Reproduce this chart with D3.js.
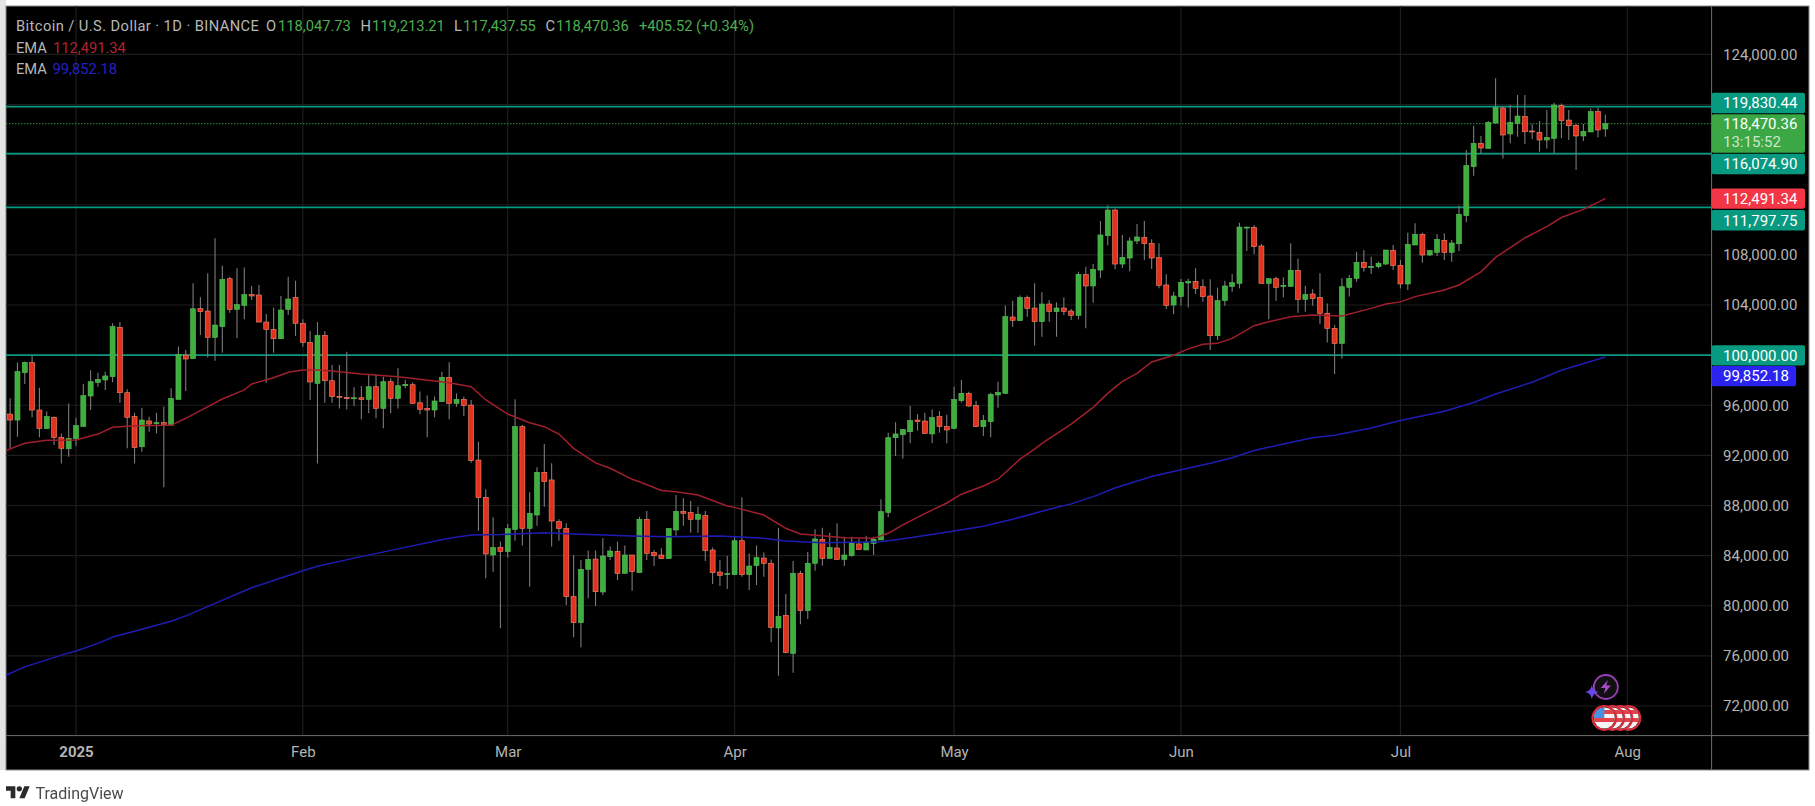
<!DOCTYPE html>
<html>
<head>
<meta charset="utf-8">
<script src="https://cdn.jsdelivr.net/npm/d3@7"></script>
<style>
   html, body { margin: 0; background: #fff; }
   svg { display: block; filter: blur(0.45px); }
   text { font-family: Roboto, sans-serif; }
</style>
</head>
<body>
<div class="chart"></div>
<script>
// candles, one per day, first one is 2024-12-23
const firstDay = new Date(Date.UTC(2024, 11, 23));
const opens = [
   95300,94820,98600,99400,95620,94130,95040,93440,92530,93330,
   94300,96740,97830,98020,98280,102220,97000,95090,92690,94750,
   94560,94610,94400,96470,100010,99720,103710,103520,101420,102270,
   106100,103650,103970,104830,104800,102640,102060,101310,103650,104590,
   102540,101020,97750,101580,97960,96710,96630,96530,96600,96470,
   97480,95750,97880,96550,97560,97640,96200,95730,95620,96290,
   98230,96150,96470,96020,91630,88650,84050,84660,84320,86100,
   94290,86180,87240,90650,90040,86710,86180,80730,78650,82910,
   83730,81100,83920,84340,82590,84050,82640,86900,84240,84050,
   83760,86050,87530,87430,86900,87190,84450,82690,82480,82480,
   85190,82480,83200,83810,83390,78230,79240,76200,82590,79610,
   83390,85300,83780,84610,83700,84000,84930,84450,84980,85250,
   87450,93410,93650,93890,94820,94740,93710,95090,94290,94160,
   96370,96950,95970,94290,94690,96820,96950,103040,102750,104590,
   103760,102670,104080,103470,103760,103520,103180,106420,105520,106790,
   109530,111580,107270,107750,109110,109400,108920,107780,105600,104000,
   104670,105760,105890,105460,104720,101550,104350,105490,105730,110170,
   110200,108710,105730,106100,105490,105490,106770,104450,104880,104610,
   103340,102140,100940,105410,106130,107410,106980,107060,107270,108360,
   107170,105680,108790,109640,107990,108200,109160,108200,108890,111130,
   115040,116900,116500,118520,119720,117650,118500,119060,117890,117780,
   117170,117300,119930,118760,118340,117490,117810,119430,118047.73
];
const highs = [
   96550,99400,99500,99930,97400,95500,95100,93750,96150,95000,
   97700,98800,98600,98680,102540,102640,97270,95400,95800,95090,
   95400,95900,97350,100680,100410,105730,104610,106530,109320,107140,
   106260,106930,107000,105520,105600,103280,103790,104720,106260,105940,
   102860,101930,102640,101930,99210,99210,100280,97430,97540,98410,
   98470,98280,98150,98950,98020,97800,97090,96770,96690,98680,
   99430,96950,96690,96420,93090,89290,87060,85120,86520,96470,
   94420,89050,91050,92910,91370,86900,86580,84050,83650,84400,
   84400,85380,84720,85120,84800,84050,87110,87560,84450,84580,
   86200,88840,88570,88360,87910,87560,84640,83650,83970,85510,
   88650,84180,84800,84240,83700,86230,80940,83570,82800,84290,
   86100,86230,85830,86580,85510,85510,85300,85590,85510,88490,
   93810,94640,94100,95940,95300,95410,95670,95540,95250,97480,
   98020,97080,96370,95220,97000,97880,103970,104350,104750,104750,
   105730,105010,104400,104210,104610,103680,106660,107060,107270,110700,
   111950,111710,109590,109400,110460,110700,109240,108920,106450,105060,
   106080,106100,106930,106050,106050,105380,105940,106470,110570,110250,
   110380,108870,106130,106260,106210,108920,107720,105540,105250,106530,
   104130,102400,106130,106400,108260,108390,107860,107460,108390,108790,
   107590,109770,110520,109770,108390,109670,109720,109190,111930,116370,
   118310,117490,118680,122090,119830,119960,120760,120760,118420,118680,
   119560,120150,120090,119560,118440,118440,119690,119750,119213.21
];
const lows = [
   92560,93490,97700,95040,93440,94100,92830,91360,91900,92750,
   94300,95620,97480,97220,97830,96200,92560,91360,92300,93890,
   93760,89450,94400,96470,97140,99720,101600,99820,99560,100200,
   103390,101340,102860,104400,102640,97800,100200,101310,103200,101520,
   100680,96420,91360,96200,96200,95750,95670,95940,94880,95360,
   94960,94160,95360,95750,97350,96150,95280,93440,95040,96290,
   94880,95880,95150,91420,85990,82190,82720,78200,83860,85190,
   84800,81520,86390,87910,84720,85190,80060,77480,76680,80590,
   79980,80860,83650,82060,82590,81200,82640,83650,83170,83730,
   83760,85590,86390,85830,85830,83570,81740,81580,81340,82480,
   82320,81260,81660,82320,77080,74420,76200,74660,78520,78940,
   82800,83200,83780,83700,83170,83920,84450,84450,84050,85250,
   87060,91950,91760,92960,93970,93710,92960,93810,92960,94080,
   96210,95890,94290,93550,93440,95810,96900,102270,102750,103070,
   100760,101470,102670,101470,103200,102800,102860,102140,104190,106160,
   108740,106850,106950,106690,108870,107590,106870,105330,103680,103260,
   103950,103810,104880,104270,100410,101210,103950,105060,105330,108310,
   108070,105730,102860,104350,104610,105460,103390,103470,103950,102460,
   101000,98490,99740,104670,105860,106660,106470,106930,107190,106790,
   105330,105200,108790,107380,107910,107910,107590,107460,108310,110600,
   114320,116050,116500,118500,115700,116900,117430,116850,117220,116240,
   116500,116100,117300,117170,114770,117090,117810,117380,117437.55
];
const closes = [
   94820,98680,99420,95620,94160,95090,93440,92560,93360,94370,
   96770,97880,98070,98340,102270,97000,95040,92640,94820,94500,
   94610,94480,96530,100060,99690,103700,103470,101420,102400,106050,
   103650,104030,104830,104720,102640,102060,101310,103600,104480,102540,
   101020,97860,101580,97960,96690,96630,96530,96600,96470,97480,
   95750,97880,96550,97560,97670,96150,95680,95620,96340,98230,
   96150,96470,95990,91580,88630,84130,84640,84340,86150,94290,
   86180,87380,90650,89900,86760,86180,80730,78650,82910,83700,
   81120,83970,84370,82590,84050,82720,86900,84180,84000,83760,
   86150,87530,87380,86900,87300,84400,82640,82430,82560,85190,
   82480,83170,83840,83390,78280,79160,76260,82590,79610,83390,
   85330,83780,84640,83700,84050,84980,84500,85030,85300,87510,
   93410,93710,94050,94770,94690,93760,95010,94290,94030,96470,
   96950,95940,94290,94800,96870,97030,103070,102780,104590,103730,
   102670,104080,103500,103760,103500,103180,106450,105520,106850,109590,
   111580,107270,107800,109110,109430,108900,107750,105570,103970,104720,
   105810,105890,105330,104670,101550,104350,105520,105780,110220,110220,
   108660,105730,106100,105410,105570,106770,104450,104830,104510,103340,
   102140,100940,105460,106130,107410,106980,107090,107330,108390,107140,
   105680,108840,109640,107990,108340,109240,108200,108950,111240,115120,
   116900,116530,118580,119750,117570,118580,119080,117830,117810,117170,
   117380,119960,118710,118310,117490,117860,119430,117970,118470.36
];

// moving averages, day numbers count from 2025-01-01
const emaFastDays = [
   -10,-7,-4,0,3,5,8,13,15,17,20,23,24,27,29,31,33,35,39,44,49,51,54,56,59,62,64,66,68,71,73,76,77,80,82,85,89,90,94,97,99,
   102,105,109,111,113,116,119,121,124,126,129,131,132,136,139,141,143,145,147,150,152,154,156,158,161,163,166,169,173,177,
   179,181,183,187,189,192,194,198,201,203,206,209
];
const emaFastValues = [
   92300,92960,93200,93230,93700,94240,94370,94400,94960,95570,96500,97220,97700,98200,98640,98810,98810,98730,98490,98280,97940,97800,97480,96420,95300,94600,94290,93700,92560,91400,90970,90090,89900,89200,89100,88840,87960,87850,87240,86180,85730,
   85590,85430,85380,85780,86450,87350,88200,88900,89560,90100,91700,92500,92950,94500,95830,96950,97900,98550,99450,99990,100500,100860,100940,101340,102350,102670,103070,103200,103120,103730,
   104080,104250,104670,105200,105600,106650,107800,109350,110250,110980,111630,112491.34
];
const emaSlowDays = [
   -10,-7,-2,0,3,5,8,13,15,19,24,28,31,33,38,44,49,51,54,58,64,68,76,81,88,94,97,102,110,114,120,124,128,133,136,139,142,147,151,155,158,161,165,169,172,177,181,187,191,194,199,203,209
];
const emaSlowValues = [
   74350,75120,76060,76390,77000,77510,77970,78770,79190,80190,81440,82210,82800,83150,83800,84540,85150,85380,85650,85680,85830,85730,85570,85510,85570,85380,85170,85030,85110,85430,85970,86350,86900,87700,88130,88710,89400,90320,90850,91370,91810,92390,92900,93400,93600,94180,94780,95530,96220,96900,97840,98790,99852.18
];

// horizontal levels and axis labels
const levelPrices = [119830.44, 116074.9, 111797.75, 100000];
const gridPrices = d3.range(72000, 124001, 4000);
const priceTicks = [124000, 108000, 104000, 96000, 92000, 88000, 84000, 80000, 76000, 72000];
const monthStarts = ["2025-01-01", "2025-02-01", "2025-03-01", "2025-04-01", "2025-05-01", "2025-06-01", "2025-07-01", "2025-08-01"];
const monthLabels = ["2025", "Feb", "Mar", "Apr", "May", "Jun", "Jul", "Aug"];
const lastClose = closes[closes.length - 1];
const emaFastLast = 112491.34;
const emaSlowLast = 99852.18;

// setup chart
const width = 1815;
const height = 806;
const left = 6;
const top_ = 6;
const plotRight = 1711.6;
const plotBottom = 735.6;
const frameRight = 1809;
const frameBottom = 770;

const teal = "#089981";
const upColor = "#3fae3f";
const downColor = "#e2321f";
const wickColor = "#7b7b7b";
const gridColor = "#1d1d1d";
const axisText = "#b4b4b4";
const headerText = "#b8b8b8";
const fastColor = "#a01f2c";
const slowColor = "#1f1cb4";
const labelSize = "15px";

const svg = d3.select(".chart").append("svg").attr("width", width).attr("height", height);

svg.append("rect").attr("x", 0).attr("y", 0).attr("width", left).attr("height", frameBottom).attr("fill", "#e4e4e4");
svg.append("rect")
   .attr("x", left).attr("y", top_)
   .attr("width", frameRight - left).attr("height", frameBottom - top_)
   .attr("fill", "#000").attr("stroke", "#8a8a8a").attr("stroke-width", 1);

svg.append("clipPath").attr("id", "plot-clip")
   .append("rect")
   .attr("x", left).attr("y", top_)
   .attr("width", plotRight - left).attr("height", plotBottom - top_);

const parseDay = d3.utcParse("%Y-%m-%d");
const months = monthStarts.map(parseDay);
const x = d3.scaleUtc().domain([months[0], months[7]]).range([76, 1627.3]);
const y = d3.scaleLinear().domain([72000, 124000]).range([706, 54.4]);

const fromJan = (n) => d3.utcDay.offset(months[0], n);
const candles = opens.map((o, i) => ({
   date: d3.utcDay.offset(firstDay, i),
   open: o,
   high: highs[i],
   low: lows[i],
   close: closes[i]
}));

const plot = svg.append("g").attr("clip-path", "url(#plot-clip)");

// grid
plot.append("g").selectAll("line").data(gridPrices).enter().append("line")
   .attr("x1", left).attr("x2", plotRight)
   .attr("y1", (d) => y(d)).attr("y2", (d) => y(d))
   .attr("stroke", gridColor).attr("stroke-width", 1.2);
plot.append("g").selectAll("line").data(months).enter().append("line")
   .attr("x1", (d) => x(d)).attr("x2", (d) => x(d))
   .attr("y1", top_).attr("y2", plotBottom)
   .attr("stroke", gridColor).attr("stroke-width", 1.2);

// levels
plot.append("g").selectAll("line").data(levelPrices).enter().append("line")
   .attr("x1", left).attr("x2", plotRight)
   .attr("y1", (d) => y(d)).attr("y2", (d) => y(d))
   .attr("stroke", teal).attr("stroke-width", 1.7);

// last price line
plot.append("line")
   .attr("x1", left).attr("x2", plotRight)
   .attr("y1", y(lastClose)).attr("y2", y(lastClose))
   .attr("stroke", "#2f8f35").attr("stroke-width", 1).attr("stroke-dasharray", "1.5 1.5");

// candles
const bodyWidth = 5;
const candleG = plot.append("g");
candleG.selectAll(".wick").data(candles).enter().append("line")
   .attr("class", "wick")
   .attr("x1", (d) => x(d.date)).attr("x2", (d) => x(d.date))
   .attr("y1", (d) => y(d.high)).attr("y2", (d) => y(d.low))
   .attr("stroke", wickColor).attr("stroke-width", 1.1);
candleG.selectAll(".body").data(candles).enter().append("rect")
   .attr("class", "body")
   .attr("x", (d) => x(d.date) - bodyWidth / 2)
   .attr("y", (d) => y(Math.max(d.open, d.close)))
   .attr("width", bodyWidth)
   .attr("height", (d) => Math.max(1, Math.abs(y(d.open) - y(d.close))))
   .attr("fill", (d) => (d.close >= d.open ? upColor : downColor))
   .attr("stroke", (d) => (d.close >= d.open ? "#58c057" : "#f58a6c"))
   .attr("stroke-width", 0.6);

// moving averages
const emaLine = d3.line()
   .x((d) => x(fromJan(d[0])))
   .y((d) => y(d[1]));
plot.append("path")
   .attr("d", emaLine(d3.zip(emaSlowDays, emaSlowValues)))
   .attr("fill", "none").attr("stroke", slowColor).attr("stroke-width", 1.5);
plot.append("path")
   .attr("d", emaLine(d3.zip(emaFastDays, emaFastValues)))
   .attr("fill", "none").attr("stroke", fastColor).attr("stroke-width", 1.5);

// axes
svg.append("line").attr("x1", plotRight).attr("x2", plotRight).attr("y1", top_).attr("y2", frameBottom)
   .attr("stroke", "#6e6e6e").attr("stroke-width", 1);
svg.append("line").attr("x1", left).attr("x2", frameRight).attr("y1", plotBottom).attr("y2", plotBottom)
   .attr("stroke", "#6e6e6e").attr("stroke-width", 1);

const yAxis = d3.axisRight(y).tickValues(priceTicks).tickFormat(d3.format(",.2f")).tickSize(0).tickPadding(11.5);
const yAxisG = svg.append("g").attr("transform", `translate(${plotRight},0)`).call(yAxis);
yAxisG.select(".domain").remove();
yAxisG.selectAll("text").attr("fill", axisText).style("font-size", labelSize).style("font-family", "Roboto, sans-serif");

const xAxis = d3.axisBottom(x).tickValues(months).tickFormat((d, i) => monthLabels[i]).tickSize(0).tickPadding(11);
const xAxisG = svg.append("g").attr("transform", `translate(0,${plotBottom})`).call(xAxis);
xAxisG.select(".domain").remove();
xAxisG.selectAll("text")
   .attr("fill", axisText)
   .style("font-size", labelSize)
   .style("font-family", "Roboto, sans-serif")
   .style("font-weight", (d, i) => (i === 0 ? "700" : "400"));

// price tags on the right axis
function priceTag(value, color, dy, tagWidth) {
   const cy = y(value) + dy;
   svg.append("rect")
      .attr("x", plotRight).attr("y", cy - 10.2)
      .attr("width", tagWidth).attr("height", 20.4)
      .attr("rx", 2).attr("fill", color);
   svg.append("text")
      .attr("x", 1723).attr("y", cy + 5.2)
      .attr("fill", "#fff").style("font-size", labelSize)
      .text(d3.format(",.2f")(value));
}
svg.append("rect")
   .attr("x", plotRight).attr("y", 114.3)
   .attr("width", 93.4).attr("height", 38.4)
   .attr("rx", 2).attr("fill", "#3ba745");
svg.append("text").attr("x", 1723).attr("y", 128.6).attr("fill", "#fff").style("font-size", labelSize)
   .text(d3.format(",.2f")(lastClose));
svg.append("text").attr("x", 1723).attr("y", 147).attr("fill", "#cfe6cf").style("font-size", labelSize)
   .text("13:15:52");
priceTag(levelPrices[0], teal, -3.6, 93.4);
priceTag(levelPrices[1], teal, 10.3, 93.4);
priceTag(emaFastLast, "#f23645", 0, 93.4);
priceTag(levelPrices[2], teal, 13, 93.4);
priceTag(levelPrices[3], teal, 0.2, 93.4);
priceTag(emaSlowLast, "#2b24f0", 19.1, 84.5);

// header
function headerLabel(tx, ty, str, color) {
   return svg.append("text").attr("x", tx).attr("y", ty).attr("fill", color).style("font-size", "14.7px").text(str);
}
const valueGreen = "#4caf50";
headerLabel(16, 31, "Bitcoin / U.S. Dollar · 1D · BINANCE", headerText).style("letter-spacing", "0.42px");
headerLabel(266, 31, "O", headerText);
headerLabel(278, 31, "118,047.73", valueGreen);
headerLabel(360.5, 31, "H", headerText);
headerLabel(372, 31, "119,213.21", valueGreen);
headerLabel(454, 31, "L", headerText);
headerLabel(463, 31, "117,437.55", valueGreen);
headerLabel(545.5, 31, "C", headerText);
headerLabel(556, 31, "118,470.36", valueGreen);
headerLabel(639, 31, "+405.52 (+0.34%)", valueGreen);
headerLabel(16, 52.5, "EMA", headerText);
headerLabel(53, 52.5, "112,491.34", "#b0242f");
headerLabel(16, 73.5, "EMA", headerText);
headerLabel(52.5, 73.5, "99,852.18", "#2521c8");

// event markers under the last candle
const markerX = x(d3.utcDay.offset(firstDay, opens.length - 1)) - 1;
const defs = svg.append("defs");
[24, 16, 8, 0].forEach((off, i) => {
   const cx = markerX + off;
   const cy = 718;
   const clipId = "flag-" + i;
   defs.append("clipPath").attr("id", clipId).append("circle").attr("cx", cx).attr("cy", cy).attr("r", 10.5);
   svg.append("circle").attr("cx", cx).attr("cy", cy).attr("r", 11.8)
      .attr("fill", "#111").attr("stroke", "#dd2b3a").attr("stroke-width", 2.2);
   const flag = svg.append("g").attr("clip-path", `url(#${clipId})`);
   flag.append("rect").attr("x", cx - 11).attr("y", cy - 11).attr("width", 22).attr("height", 22).attr("fill", "#f4f4f4");
   [-8, 0].forEach((s) => {
      flag.append("rect").attr("x", cx - 11).attr("y", cy + s).attr("width", 22).attr("height", 4).attr("fill", "#e2424a");
   });
   flag.append("rect").attr("x", cx - 11).attr("y", cy - 11).attr("width", 11).attr("height", 11).attr("fill", "#4a90e2");
});

svg.append("circle").attr("cx", markerX + 1.5).attr("cy", 687).attr("r", 12)
   .attr("fill", "#101010").attr("stroke", "#9a3fb8").attr("stroke-width", 1.8);
svg.append("path")
   .attr("transform", `translate(${markerX + 1.5},687)`)
   .attr("d", "M2,-7 L-5,1 L-0.5,1 L-2,7 L5,-1.5 L0.5,-1.5 Z")
   .attr("fill", "#a84bc8");
svg.append("path")
   .attr("transform", `translate(${markerX - 12.5},692)`)
   .attr("d", "M0,-7 Q1,-1 7,0 Q1,1 0,7 Q-1,1 -7,0 Q-1,-1 0,-7 Z")
   .attr("fill", "#6a45e8");

// logo
svg.append("path")
   .attr("transform", "translate(6,783.5) scale(0.667)")
   .attr("d", "M14 22H7V11H0V4h14v18zM28 22h-8l7.5-18h8L28 22z")
   .attr("fill", "#2a2a2a");
svg.append("circle").attr("cx", 6 + 20 * 0.667).attr("cy", 783.5 + 8 * 0.667).attr("r", 4 * 0.667).attr("fill", "#2a2a2a");
svg.append("text")
   .attr("x", 35.5).attr("y", 799)
   .attr("fill", "#4a4a4a")
   .style("font-size", "16px")
   .text("TradingView");
</script>
</body>
</html>
